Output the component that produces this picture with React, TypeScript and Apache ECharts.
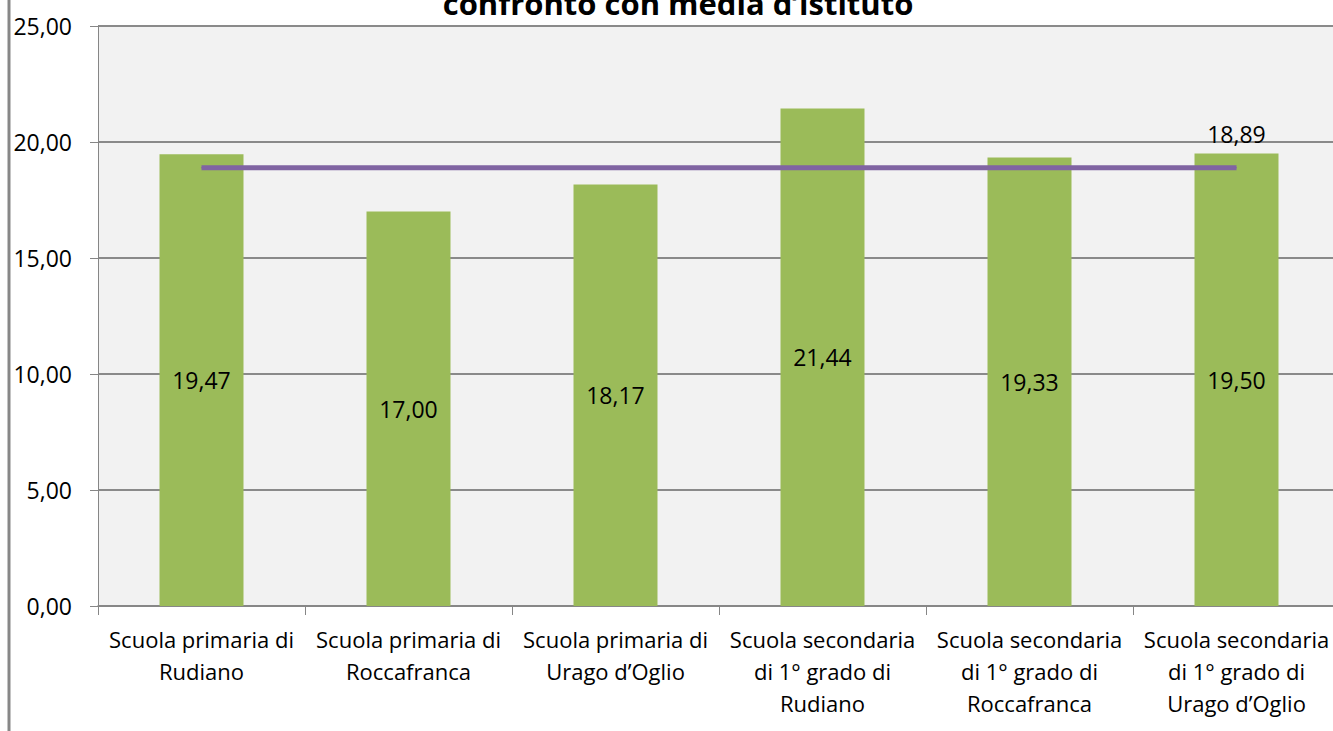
import React, { useEffect, useRef } from "react";
import * as echarts from "echarts";

const categories = [
  "Scuola primaria di\nRudiano",
  "Scuola primaria di\nRoccafranca",
  "Scuola primaria di\nUrago d’Oglio",
  "Scuola secondaria\ndi 1° grado di\nRudiano",
  "Scuola secondaria\ndi 1° grado di\nRoccafranca",
  "Scuola secondaria\ndi 1° grado di\nUrago d’Oglio",
];
const mediaPlesso = [19.47, 17.0, 18.17, 21.44, 19.33, 19.5];
const mediaIstituto = [18.89, 18.89, 18.89, 18.89, 18.89, 18.89];
const titleText = "confronto con media d’istituto";

const fmt = (v: number) => v.toFixed(2).replace(".", ",");
const FONT = "'Open Sans', 'DejaVu Sans', sans-serif";

export default function App() {
  const ref = useRef<HTMLDivElement>(null);
  useEffect(() => {
    if (!ref.current) return;
    const chart = echarts.init(ref.current, null, { renderer: "svg" });
    const lastIdx = mediaIstituto.length - 1;
    chart.setOption({
      animation: false,
      backgroundColor: "#ffffff",
      textStyle: { fontFamily: FONT },
      grid: {
        left: 98,
        top: 26,
        right: 0,
        bottom: 125,
        show: true,
        backgroundColor: "#f2f2f2",
        borderWidth: 0,
      },
      graphic: [
        {
          type: "rect",
          shape: { x: 7.5, y: 0, width: 3, height: 731 },
          style: { fill: "#878787" },
          z: 100,
        },
        {
          type: "text",
          x: 678,
          y: 3,
          style: {
            text: titleText,
            fontFamily: FONT,
            fontSize: 31,
            fontWeight: "bold",
            fill: "#000000",
            align: "center",
            verticalAlign: "middle",
          },
          z: 100,
        },
      ],
      xAxis: {
        type: "category",
        data: categories,
        axisLine: { show: true, lineStyle: { color: "#868686", width: 1.5 } },
        axisTick: { show: true, length: 9, lineStyle: { color: "#868686", width: 1 } },
        axisLabel: {
          interval: 0,
          color: "#000000",
          fontFamily: FONT,
          fontSize: 22,
          lineHeight: 32,
          margin: 17,
        },
        splitLine: { show: false },
      },
      yAxis: {
        type: "value",
        min: 0,
        max: 25,
        interval: 5,
        axisLine: { show: true, lineStyle: { color: "#868686", width: 1 } },
        axisTick: { show: true, length: 8, lineStyle: { color: "#868686", width: 1 } },
        axisLabel: {
          color: "#000000",
          fontFamily: FONT,
          fontSize: 23,
          margin: 26,
          formatter: (v: number) => fmt(v),
        },
        splitLine: { show: true, lineStyle: { color: "#8a8a8a", width: 2 } },
      },
      series: [
        {
          type: "bar",
          data: mediaPlesso,
          barWidth: 84,
          itemStyle: { color: "#9bbb59" },
          label: {
            show: true,
            position: "inside",
            color: "#000000",
            fontFamily: FONT,
            fontSize: 23,
            formatter: (p: any) => fmt(p.value),
          },
        },
        {
          type: "line",
          data: mediaIstituto.map((v, i) => ({
            value: v,
            label: {
              show: i === lastIdx,
              position: "top",
              distance: 22,
              color: "#000000",
              fontFamily: FONT,
              fontSize: 23,
              formatter: (p: any) => fmt(p.value),
            },
          })),
          symbol: "circle",
          symbolSize: 1,
          itemStyle: { color: "#8064a2" },
          lineStyle: { color: "#8064a2", width: 5 },
          z: 5,
        },
      ],
    });
    return () => chart.dispose();
  }, []);
  return (
    <div
      style={{
        position: "fixed",
        left: 0,
        top: 0,
        width: 1333,
        height: 731,
        overflow: "hidden",
        background: "#fff",
      }}
    >
      <div ref={ref} style={{ width: 1340, height: 731 }} />
    </div>
  );
}
